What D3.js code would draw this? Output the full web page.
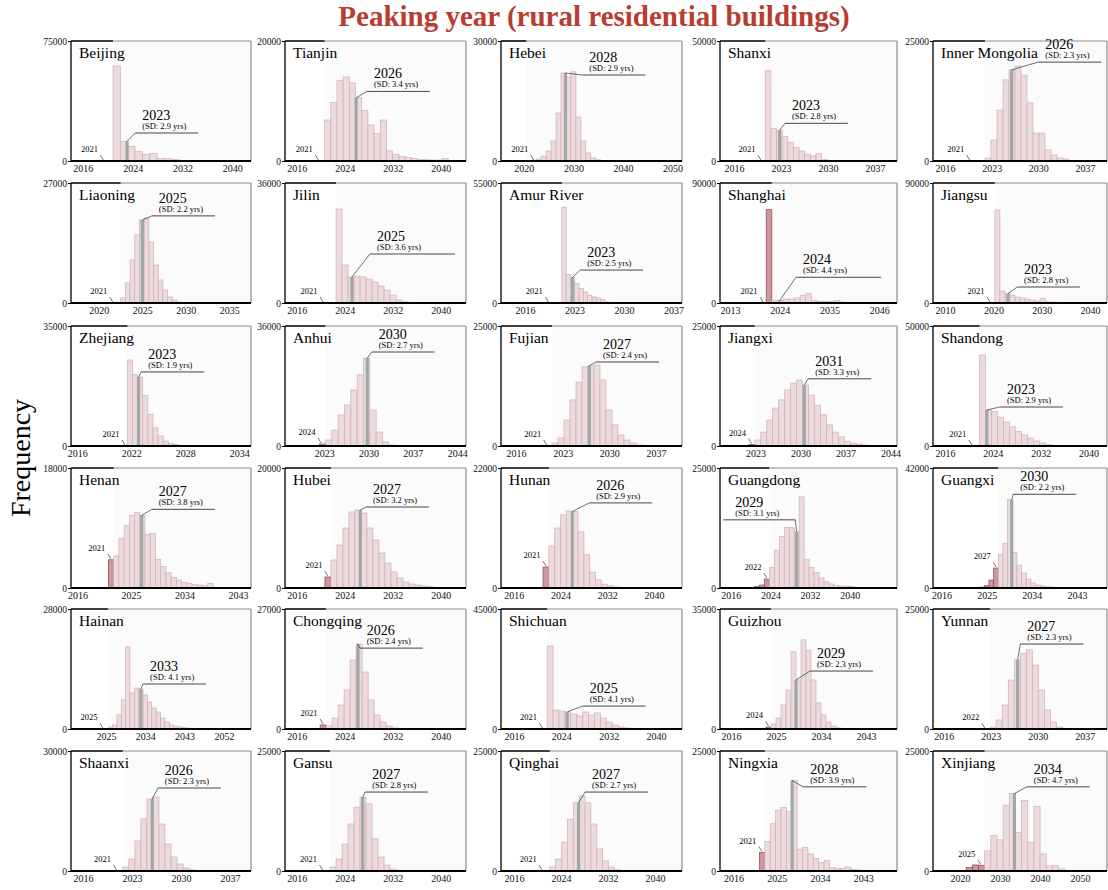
<!DOCTYPE html>
<html>
<head>
<meta charset="utf-8">
<script src="https://cdn.jsdelivr.net/npm/d3@7"></script>
<style>
body { margin: 0; background: #fff; }
text { font-family: "Liberation Serif", "Times New Roman", serif; }
</style>
</head>
<body>
<script>
var width = 1108,
    height = 890

// ---- data ----
var provinces = ['Beijing', 'Tianjin', 'Hebei', 'Shanxi', 'Inner Mongolia',
  'Liaoning', 'Jilin', 'Amur River', 'Shanghai', 'Jiangsu',
  'Zhejiang', 'Anhui', 'Fujian', 'Jiangxi', 'Shandong',
  'Henan', 'Hubei', 'Hunan', 'Guangdong', 'Guangxi',
  'Hainan', 'Chongqing', 'Shichuan', 'Guizhou', 'Yunnan',
  'Shaanxi', 'Gansu', 'Qinghai', 'Ningxia', 'Xinjiang']

var yMax = [75000, 20000, 30000, 50000, 25000,
  27000, 36000, 55000, 90000, 90000,
  35000, 36000, 25000, 25000, 50000,
  18000, 20000, 22000, 25000, 42000,
  28000, 27000, 45000, 35000, 25000,
  30000, 25000, 25000, 25000, 25000]

var xRange = [[2014.1, 2043], [2014.05, 2044.2], [2015.4, 2051.9], [2013.9, 2040.3], [2014.2, 2040.3],
  [2016.8, 2037.5], [2014.05, 2044.2], [2012.6, 2038.2], [2010.8, 2049.9], [2007.5, 2043.5],
  [2015.3, 2035.3], [2016.8, 2045.4], [2013.75, 2040.9], [2017.5, 2045], [2014, 2043.1],
  [2014.9, 2045.2], [2014.05, 2044.2], [2013.8, 2044.8], [2013.85, 2049.5], [2014.3, 2049],
  [2017, 2058.2], [2014.05, 2044.2], [2013.8, 2044.4], [2013.8, 2049.2], [2014.4, 2040.3],
  [2014.3, 2040], [2014.05, 2044.2], [2013.8, 2044.6], [2013.2, 2050], [2013.25, 2056.75]]

var xTicks = [[2016, 2024, 2032, 2040], [2016, 2024, 2032, 2040], [2020, 2030, 2040, 2050], [2016, 2023, 2030, 2037], [2016, 2023, 2030, 2037],
  [2020, 2025, 2030, 2035], [2016, 2024, 2032, 2040], [2016, 2023, 2030, 2037], [2013, 2024, 2035, 2046], [2010, 2020, 2030, 2040],
  [2016, 2022, 2028, 2034], [2023, 2030, 2037, 2044], [2016, 2023, 2030, 2037], [2023, 2030, 2037, 2044], [2016, 2024, 2032, 2040],
  [2016, 2025, 2034, 2043], [2016, 2024, 2032, 2040], [2016, 2024, 2032, 2040], [2016, 2024, 2032, 2040], [2016, 2025, 2034, 2043],
  [2025, 2034, 2043, 2052], [2016, 2024, 2032, 2040], [2016, 2024, 2032, 2040], [2016, 2025, 2034, 2043], [2016, 2023, 2030, 2037],
  [2016, 2023, 2030, 2037], [2016, 2024, 2032, 2040], [2016, 2024, 2032, 2040], [2016, 2025, 2034, 2043], [2020, 2030, 2040, 2050]]

// histogram bins: first edge, width (years), frequencies
var binStart = [2019.67, 2019.62, 2019.5, 2019.81, 2021.1,
  2021.97, 2021.55, 2020.59, 2019.75, 2019.26,
  2020.99, 2022.2, 2020.5, 2021.97, 2020.8,
  2021.2, 2020.7, 2021.0, 2020.8, 2023.6,
  2024.5, 2019.9, 2020.6, 2023.0, 2022.0,
  2020.84, 2020.55, 2021.1, 2021.4, 2020.0]

var binWidth = [1.18, 1.03, 1.0, 0.84, 0.9,
  0.54, 1.0, 0.61, 1.25, 1.04,
  0.57, 1.0, 0.9, 0.93, 1.0,
  0.88, 1.0, 1.0, 1.0, 0.93,
  1.0, 1.0, 1.0, 1.0, 0.9,
  0.86, 1.0, 1.0, 1.12, 1.54]

var counts = [
  [0, 59400, 12300, 9200, 6000, 4200, 4600, 1500, 1400, 800, 400, 300, 200, 150, 100, 60, 40],
  [0, 6830, 9750, 13450, 14000, 13000, 10530, 8400, 6000, 4600, 6830, 1680, 1120, 780, 560, 390, 280, 220, 170, 150, 390, 100],
  [0, 100, 200, 500, 1200, 2500, 5000, 12000, 22000, 21000, 22300, 11000, 5000, 2000, 800, 300, 150, 80],
  [0, 37600, 13500, 12800, 10300, 7660, 5570, 4180, 2790, 2090, 3060, 560, 280, 150, 100, 80, 50],
  [0, 625, 4375, 10600, 16900, 19000, 19800, 17900, 12100, 5800, 5800, 2300, 1250, 625, 400],
  [0, 1125, 4500, 9675, 15300, 18675, 19125, 13725, 8550, 5175, 2925, 1350, 675, 200, 100],
  [0, 28200, 11400, 7800, 8100, 7800, 7200, 6300, 5100, 3900, 2400, 900, 400, 200, 100],
  [0, 43900, 13060, 11680, 8900, 6600, 5070, 3530, 2770, 2300, 1540, 460, 200, 150, 100, 100, 100, 150, 200, 100, 80, 50],
  [0, 70000, 2000, 2000, 3000, 3000, 3750, 5500, 7000, 1750, 1250, 1250, 1000, 1750, 750, 500, 500, 500, 300, 300, 200, 200, 100],
  [0, 69750, 9000, 7000, 6000, 4500, 3750, 3000, 2250, 1500, 3500, 900, 750, 600, 450, 300, 200, 100],
  [0, 25100, 20800, 20100, 14700, 9200, 5300, 2900, 1450, 770, 480, 200, 100, 50],
  [600, 1800, 4800, 9300, 12300, 16800, 21300, 26400, 10800, 4200, 1200, 300, 100],
  [0, 625, 1670, 5400, 9600, 13300, 16500, 16700, 16900, 13750, 7500, 4400, 2300, 1250, 625, 200],
  [300, 1250, 2900, 5400, 7900, 9600, 11700, 13100, 13750, 12700, 10600, 8500, 6500, 4400, 2900, 1900, 1000, 600, 400, 200],
  [0, 37900, 15000, 14500, 12000, 10000, 8000, 6000, 4600, 3300, 2100, 1250, 600, 300, 150],
  [4230, 4800, 7400, 9400, 10900, 11300, 10900, 8000, 8200, 4300, 3200, 2300, 1600, 1200, 850, 650, 500, 450, 350, 700, 100],
  [1830, 4670, 7170, 10000, 12670, 13000, 12500, 10000, 8000, 5830, 4170, 2670, 1670, 1000, 670, 500, 330, 200],
  [3850, 7700, 11000, 13400, 14100, 14000, 10300, 6100, 2900, 1500, 700, 400, 200, 100],
  [280, 620, 1860, 4280, 7870, 10700, 12570, 12570, 11670, 18990, 6000, 4280, 3250, 2070, 1310, 830, 480, 410, 410, 280, 150, 100, 100, 100, 80, 100, 80],
  [300, 810, 2780, 6960, 11800, 15660, 31000, 12500, 8000, 5220, 3130, 1740, 1040, 700, 400, 300, 200, 100],
  [0, 470, 930, 3270, 6800, 19130, 8400, 9570, 9330, 7930, 6300, 4900, 3970, 2570, 1630, 930, 700, 470, 300, 200],
  [900, 675, 2475, 5400, 8775, 15525, 19125, 12825, 6525, 3150, 1575, 675, 225],
  [0, 31100, 7100, 6750, 6400, 5600, 4900, 6400, 5250, 6000, 4100, 2600, 1500, 750, 400, 200],
  [580, 1460, 3200, 7000, 11400, 22500, 14300, 26000, 23000, 14300, 7600, 4100, 2000, 875, 300, 100],
  [0, 420, 1875, 5000, 10200, 14400, 15800, 16500, 13300, 8100, 3960, 1460, 420, 150],
  [0, 1000, 3000, 7500, 13000, 18000, 18500, 11750, 6750, 3500, 1750, 750, 300],
  [0, 830, 2500, 5600, 9800, 13300, 15400, 14000, 6700, 2900, 1250, 400, 150],
  [0, 830, 2500, 6000, 10800, 14200, 15600, 14200, 9800, 4600, 2100, 830, 300],
  [3840, 6150, 9850, 12640, 13200, 12360, 18850, 4540, 4890, 3560, 2580, 1750, 2160, 700, 490, 490, 840, 350, 210, 100],
  [100, 700, 1260, 1120, 4190, 7400, 6490, 13690, 16130, 8030, 14730, 5940, 13480, 3560, 1050, 1120, 420, 150, 100]
]

// number of leading bins drawn in red (years up to the early label)
var redBins = [1, 1, 1, 1, 1, 1, 1, 1, 2, 1, 1, 1, 1, 1, 1, 1, 1, 1, 3, 4, 1, 1, 1, 1, 1, 1, 1, 1, 1, 4]

var earlyYear = [2021, 2021, 2021, 2021, 2021, 2021, 2021, 2021, 2021, 2021,
  2021, 2024, 2021, 2024, 2021, 2021, 2021, 2021, 2022, 2027,
  2025, 2021, 2021, 2024, 2022, 2021, 2021, 2021, 2021, 2025]
// where the early-year pointer lands [year, frequency]
var earlyAt = [[2019.3, 0], [2019.6, 0], [2022, 0], [2020, 0], [2019.7, 0],
  [2021.6, 0], [2020.4, 0], [2019.3, 0], [2020.3, 0], [2019.3, 0],
  [2021.3, 0], [2022.5, 600], [2020.6, 0], [2022.4, 300], [2020.5, 0],
  [2021.6, 4230], [2021.2, 1830], [2021.5, 3850], [2023.3, 1860], [2026.9, 6960],
  [2024.3, 0], [2020.4, 900], [2020.8, 0], [2023.5, 580], [2022.1, 0],
  [2020.8, 0], [2020.3, 0], [2020.8, 0], [2021.9, 3840], [2025.2, 1120]]

var meanYear = [2023.1, 2025.9, 2028.4, 2022.8, 2026.0,
  2025.0, 2025.2, 2022.7, 2024.0, 2023.0,
  2022.8, 2029.8, 2027.0, 2030.6, 2023.0,
  2026.8, 2026.6, 2026.0, 2029.3, 2030.0,
  2033.0, 2026.2, 2025.0, 2029.0, 2027.0,
  2025.9, 2027.0, 2027.0, 2028.2, 2033.6]

var sdYears = [2.9, 3.4, 2.9, 2.8, 2.3,
  2.2, 3.6, 2.5, 4.4, 2.8,
  1.9, 2.7, 2.4, 3.3, 2.9,
  3.8, 3.2, 2.9, 3.1, 2.2,
  4.1, 2.4, 4.1, 2.3, 2.3,
  2.3, 2.8, 2.7, 3.9, 4.7]

// elbow of the mean annotation [year, frequency]
var noteAt = [[2024.4, 17500], [2027.7, 11600], [2031.8, 21500], [2023.6, 15700], [2030.0, 20600],
  [2026.1, 19600], [2028.2, 14700], [2023.8, 15100], [2027.6, 19300], [2024.9, 12000],
  [2023.1, 21600], [2030.5, 28200], [2028.0, 17500], [2031.2, 14000], [2025.2, 16250],
  [2028.5, 11800], [2027.55, 13500], [2028.9, 15600], [2029.0, 14200], [2030.3, 32800],
  [2033.5, 10500], [2026.5, 18200], [2027.6, 8600], [2031.8, 16900], [2027.4, 17700],
  [2026.7, 20750], [2027.4, 16450], [2028.1, 16450], [2030.5, 17530], [2036.7, 17530]]

// ---- layout ----
var colX = [71, 285, 501, 720, 933],
    colW = [180, 181, 181, 177, 174],
    rowY = [41, 183, 326, 468, 609, 751],
    plotH = 120

var noteLen = provinces.map(function(d, i) {
  if (i == 6 || i == 8) return 85
  if (i == 18) return 72
  return 63
})
var noteDir = provinces.map(function(d, i) { return i == 18 ? -1 : 1 })

var svg = d3.select('body').append('svg')
    .attr('width', width)
    .attr('height', height)

svg.append('text')
    .attr('x', 594)
    .attr('y', 26)
    .attr('text-anchor', 'middle')
    .style('font-size', '29px')
    .style('font-weight', 'bold')
    .attr('fill', '#b83c2f')
    .text('Peaking year (rural residential buildings)')

svg.append('text')
    .attr('transform', 'translate(30,458) rotate(-90)')
    .attr('text-anchor', 'middle')
    .style('font-size', '28px')
    .text('Frequency')

provinces.forEach(function(name, i) {
  var c = i % 5, r = Math.floor(i / 5)
  var w = colW[c], h = plotH

  var x = d3.scaleLinear().domain(xRange[i]).range([0, w])
  var y = d3.scaleLinear().domain([0, yMax[i]]).range([h, 0])

  var g = svg.append('g')
      .attr('transform', 'translate(' + colX[c] + ',' + rowY[r] + ')')

  var bins = counts[i].map(function(v, k) {
    var x0 = binStart[i] + k * binWidth[i]
    return {x0: x0, x1: x0 + binWidth[i], v: v, red: k < redBins[i]}
  })
  var firstPink = x(bins[redBins[i]].x0)

  // very faint shading over the later years
  g.append('rect')
      .attr('x', firstPink).attr('y', 0)
      .attr('width', w - firstPink).attr('height', h)
      .attr('fill', '#fcfbfb')

  g.selectAll('rect.bar')
      .data(bins)
      .enter().append('rect')
      .attr('class', 'bar')
      .attr('x', function(d) { return x(d.x0) })
      .attr('width', function(d) { return x(d.x1) - x(d.x0) })
      .attr('y', function(d) { return y(d.v) })
      .attr('height', function(d) { return h - y(d.v) })
      .attr('fill', function(d) { return d.red ? '#cd979d' : '#ecdadd' })
      .attr('stroke', function(d) { return d.red ? '#8a4650' : '#cfb1b6' })
      .attr('stroke-width', 0.7)

  // mean marker
  var m = meanYear[i]
  var mb = bins.filter(function(d) { return m >= d.x0 && m < d.x1 })[0]
  var mTop = y(mb ? mb.v : 0)
  g.append('rect')
      .attr('x', x(m) - 1.6).attr('width', 3.2)
      .attr('y', mTop).attr('height', h - mTop)
      .attr('fill', '#9fa8a7')

  // frame
  g.append('line').attr('x1', firstPink).attr('x2', w).attr('y1', 0).attr('y2', 0)
      .attr('stroke', '#8c8c8c').attr('stroke-width', 1.2)
  g.append('line').attr('x1', 0).attr('x2', firstPink).attr('y1', 0).attr('y2', 0)
      .attr('stroke', '#000').attr('stroke-width', 1.6)
  g.append('line').attr('x1', w).attr('x2', w).attr('y1', 0).attr('y2', h)
      .attr('stroke', '#8c8c8c').attr('stroke-width', 1.2)
  g.append('line').attr('x1', 0).attr('x2', 0).attr('y1', 0).attr('y2', h)
      .attr('stroke', '#000').attr('stroke-width', 1.3)
  g.append('line').attr('x1', 0).attr('x2', w).attr('y1', h).attr('y2', h)
      .attr('stroke', '#000').attr('stroke-width', 2)

  // axes
  var ya = g.append('g')
      .call(d3.axisLeft(y).tickValues([0, yMax[i]]).tickSize(3).tickPadding(1).tickFormat(d3.format('d')))
  ya.select('.domain').remove()
  ya.selectAll('text').style('font-size', '9.5px').attr('fill', '#111')

  var xa = g.append('g')
      .attr('transform', 'translate(0,' + h + ')')
      .call(d3.axisBottom(x).tickValues(xTicks[i]).tickSize(0).tickPadding(4).tickFormat(d3.format('d')))
  xa.select('.domain').remove()
  xa.selectAll('text').style('font-size', '10px').attr('fill', '#111')

  // province name
  g.append('text')
      .attr('x', 8).attr('y', 17)
      .style('font-size', '15.5px')
      .text(name)

  // early-year pointer
  var ex = x(earlyAt[i][0]), ey = y(earlyAt[i][1])
  g.append('line')
      .attr('x1', ex - 3).attr('y1', ey - 6).attr('x2', ex).attr('y2', ey - 1)
      .attr('stroke', '#333').attr('stroke-width', 0.7)
  g.append('text')
      .attr('x', ex - 14).attr('y', ey - 9)
      .attr('text-anchor', 'middle')
      .style('font-size', '8.5px')
      .text(earlyYear[i])

  // mean annotation
  var nx = x(noteAt[i][0]), ny = y(noteAt[i][1])
  var lx0 = noteDir[i] > 0 ? nx : nx - noteLen[i]
  g.append('line')
      .attr('x1', x(m)).attr('y1', mTop).attr('x2', nx).attr('y2', ny)
      .attr('stroke', '#333').attr('stroke-width', 0.7)
  g.append('line')
      .attr('x1', lx0).attr('x2', lx0 + noteLen[i]).attr('y1', ny).attr('y2', ny)
      .attr('stroke', '#333').attr('stroke-width', 0.9)
  var tx = noteDir[i] > 0 ? nx + 7 : lx0 + 12
  g.append('text')
      .attr('x', tx).attr('y', ny - 13)
      .style('font-size', '14px')
      .text(Math.round(m))
  g.append('text')
      .attr('x', tx).attr('y', ny - 4)
      .style('font-size', '8.5px')
      .text('(SD: ' + sdYears[i].toFixed(1) + ' yrs)')
})
</script>
</body>
</html>
